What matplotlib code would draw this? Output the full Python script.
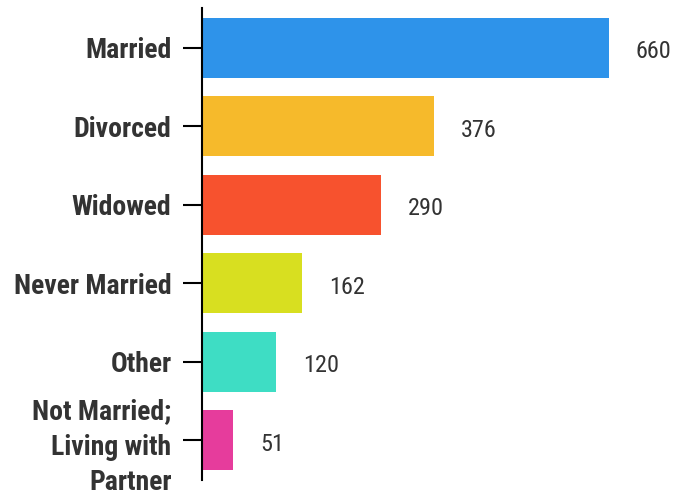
import matplotlib.pyplot as plt

categories = ["Married", "Divorced", "Widowed", "Never Married", "Other",
              "Not Married;\nLiving with\nPartner"]
counts = [660, 376, 290, 162, 120, 51]
bar_colours = ["#2E93EA", "#F6BA2B", "#F7522E", "#D8DF20", "#3EDDC4", "#E63C9C"]

plt.rcParams['font.family'] = ['Roboto Condensed', 'DejaVu Sans']

fig = plt.figure(figsize=(6.86, 4.94), dpi=100)
ax = fig.add_axes([202 / 686, 1 - 480 / 494, 1 - 202 / 686, 472 / 494])

y_pos = list(range(len(categories)))
ax.barh(y_pos, counts, height=0.765, color=bar_colours)

# Value labels to the right of each bar
for y, v in zip(y_pos, counts):
    ax.annotate(str(v), xy=(v, y), xytext=(27, -4), textcoords='offset pixels',
                va='center', ha='left', fontsize=17.5, color='#333333')

ax.set_ylim(5.51, -0.51)
ax.set_xlim(0, 785)
ax.set_yticks(y_pos)
ax.set_yticklabels(categories, fontsize=20, fontweight='bold', color='#333333',
                   linespacing=1.4)
ax.tick_params(axis='y', length=14, width=1.5, pad=8, color='black')
ax.set_xticks([])

# Only keep the left axis line
for side in ['top', 'right', 'bottom']:
    ax.spines[side].set_visible(False)
ax.spines['left'].set_linewidth(1.5)

plt.savefig("out.png", dpi=100)
